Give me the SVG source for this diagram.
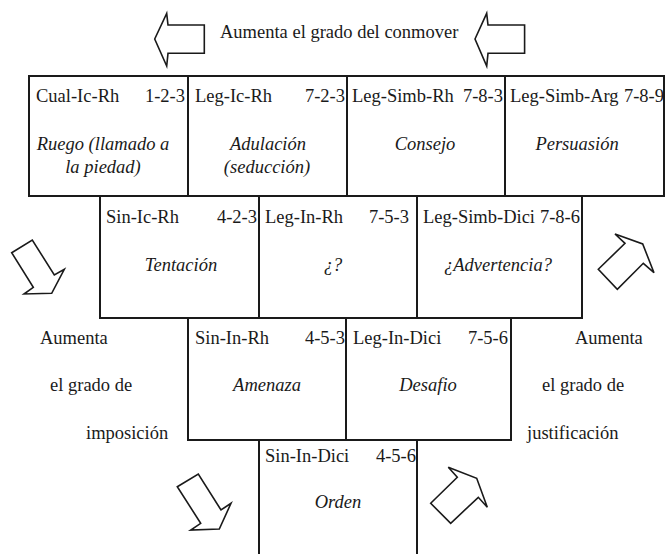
<svg xmlns="http://www.w3.org/2000/svg" width="666" height="554" viewBox="0 0 666 554">
<style>
.box{fill:none;stroke:#1a1a1a;stroke-width:2}
.arr{fill:#fff;stroke:#1a1a1a;stroke-width:1.6;stroke-linejoin:miter}
text{font-family:'Liberation Serif','DejaVu Serif',serif;font-size:18.5px;fill:#1a1a1a}
.it{font-style:italic;text-anchor:middle}
.r{text-anchor:end}
</style>
<rect width="666" height="554" fill="#fff"/>
<g font-family="Liberation Serif, DejaVu Serif, serif">
<g id="indicators">
<polygon class="arr" points="154.7,39 166.7,13.3 168,25 204.3,25 204.3,53.3 168,53.3 166.7,66"/>
<polygon class="arr" points="475,39 486.7,13.3 488,25 524.6,25 524.6,53.3 488,53.3 486.7,66"/>
<polygon class="arr" points="11.7,252.7 32.3,240 54.3,275 64.3,269.3 51.7,293.3 24,294 33.3,287.3"/>
<polygon class="arr" points="598.3,269.3 625,243.3 615,234 642.7,244 654,272.7 643.3,263.3 617.3,289.3"/>
<polygon class="arr" points="177.3,486.7 198.3,474 221,510 231,503.3 219.3,529 190.7,530 200.7,523.3"/>
<polygon class="arr" points="430.7,503.3 457.3,477.3 448.3,467.3 476.7,478.3 487.3,507.3 478.3,497.3 450.7,523.3"/>
<text x="220" y="38">Aumenta el grado del conmover</text>
<text x="40" y="344">Aumenta</text>
<text x="50" y="391">el grado de</text>
<text x="86" y="439">imposición</text>
<text x="575" y="344">Aumenta</text>
<text x="542" y="391">el grado de</text>
<text x="527" y="439">justificación</text>
</g>
<g id="cual-ic-rh">
<rect class="box" x="29" y="76" width="159" height="120"/>
<text x="36" y="102">Cual-Ic-Rh</text><text class="r" x="185" y="102">1-2-3</text>
<text class="it" x="103" y="150">Ruego (llamado a</text><text class="it" x="103" y="173">la piedad)</text>
</g>
<g id="leg-ic-rh">
<rect class="box" x="188" y="76" width="159" height="120"/>
<text x="195" y="102">Leg-Ic-Rh</text><text class="r" x="345" y="102">7-2-3</text>
<text class="it" x="268" y="150">Adulación</text><text class="it" x="267" y="173">(seducción)</text>
</g>
<g id="leg-simb-rh">
<rect class="box" x="347" y="76" width="158" height="120"/>
<text x="352" y="102">Leg-Simb-Rh</text><text class="r" x="503" y="102">7-8-3</text>
<text class="it" x="425" y="150">Consejo</text>
</g>
<g id="leg-simb-arg">
<rect class="box" x="505" y="76" width="159" height="120"/>
<text x="510" y="102">Leg-Simb-Arg</text><text class="r" x="664" y="102">7-8-9</text>
<text class="it" x="577" y="150">Persuasión</text>
</g>
<g id="sin-ic-rh">
<rect class="box" x="100" y="196" width="159" height="122"/>
<text x="106" y="223">Sin-Ic-Rh</text><text class="r" x="257" y="223">4-2-3</text>
<text class="it" x="181" y="271">Tentación</text>
</g>
<g id="leg-in-rh">
<rect class="box" x="259" y="196" width="158" height="122"/>
<text x="265" y="223">Leg-In-Rh</text><text class="r" x="409" y="223">7-5-3</text>
<text class="it" x="333" y="271">¿?</text>
</g>
<g id="leg-simb-dici">
<rect class="box" x="417" y="196" width="165" height="122"/>
<text x="423" y="223">Leg-Simb-Dici</text><text class="r" x="580" y="223">7-8-6</text>
<text class="it" x="498" y="271">¿Advertencia?</text>
</g>
<g id="sin-in-rh">
<rect class="box" x="188" y="318" width="158" height="122"/>
<text x="195" y="344">Sin-In-Rh</text><text class="r" x="345" y="344">4-5-3</text>
<text class="it" x="267" y="391">Amenaza</text>
</g>
<g id="leg-in-dici">
<rect class="box" x="346" y="318" width="165" height="122"/>
<text x="353" y="344">Leg-In-Dici</text><text class="r" x="508" y="344">7-5-6</text>
<text class="it" x="428" y="391">Desafio</text>
</g>
<g id="sin-in-dici">
<path class="box" d="M259,555 V440 H417 V555"/>
<text x="265" y="462">Sin-In-Dici</text><text class="r" x="416" y="462">4-5-6</text>
<text class="it" x="338" y="508">Orden</text>
</g>
</g>
</svg>
